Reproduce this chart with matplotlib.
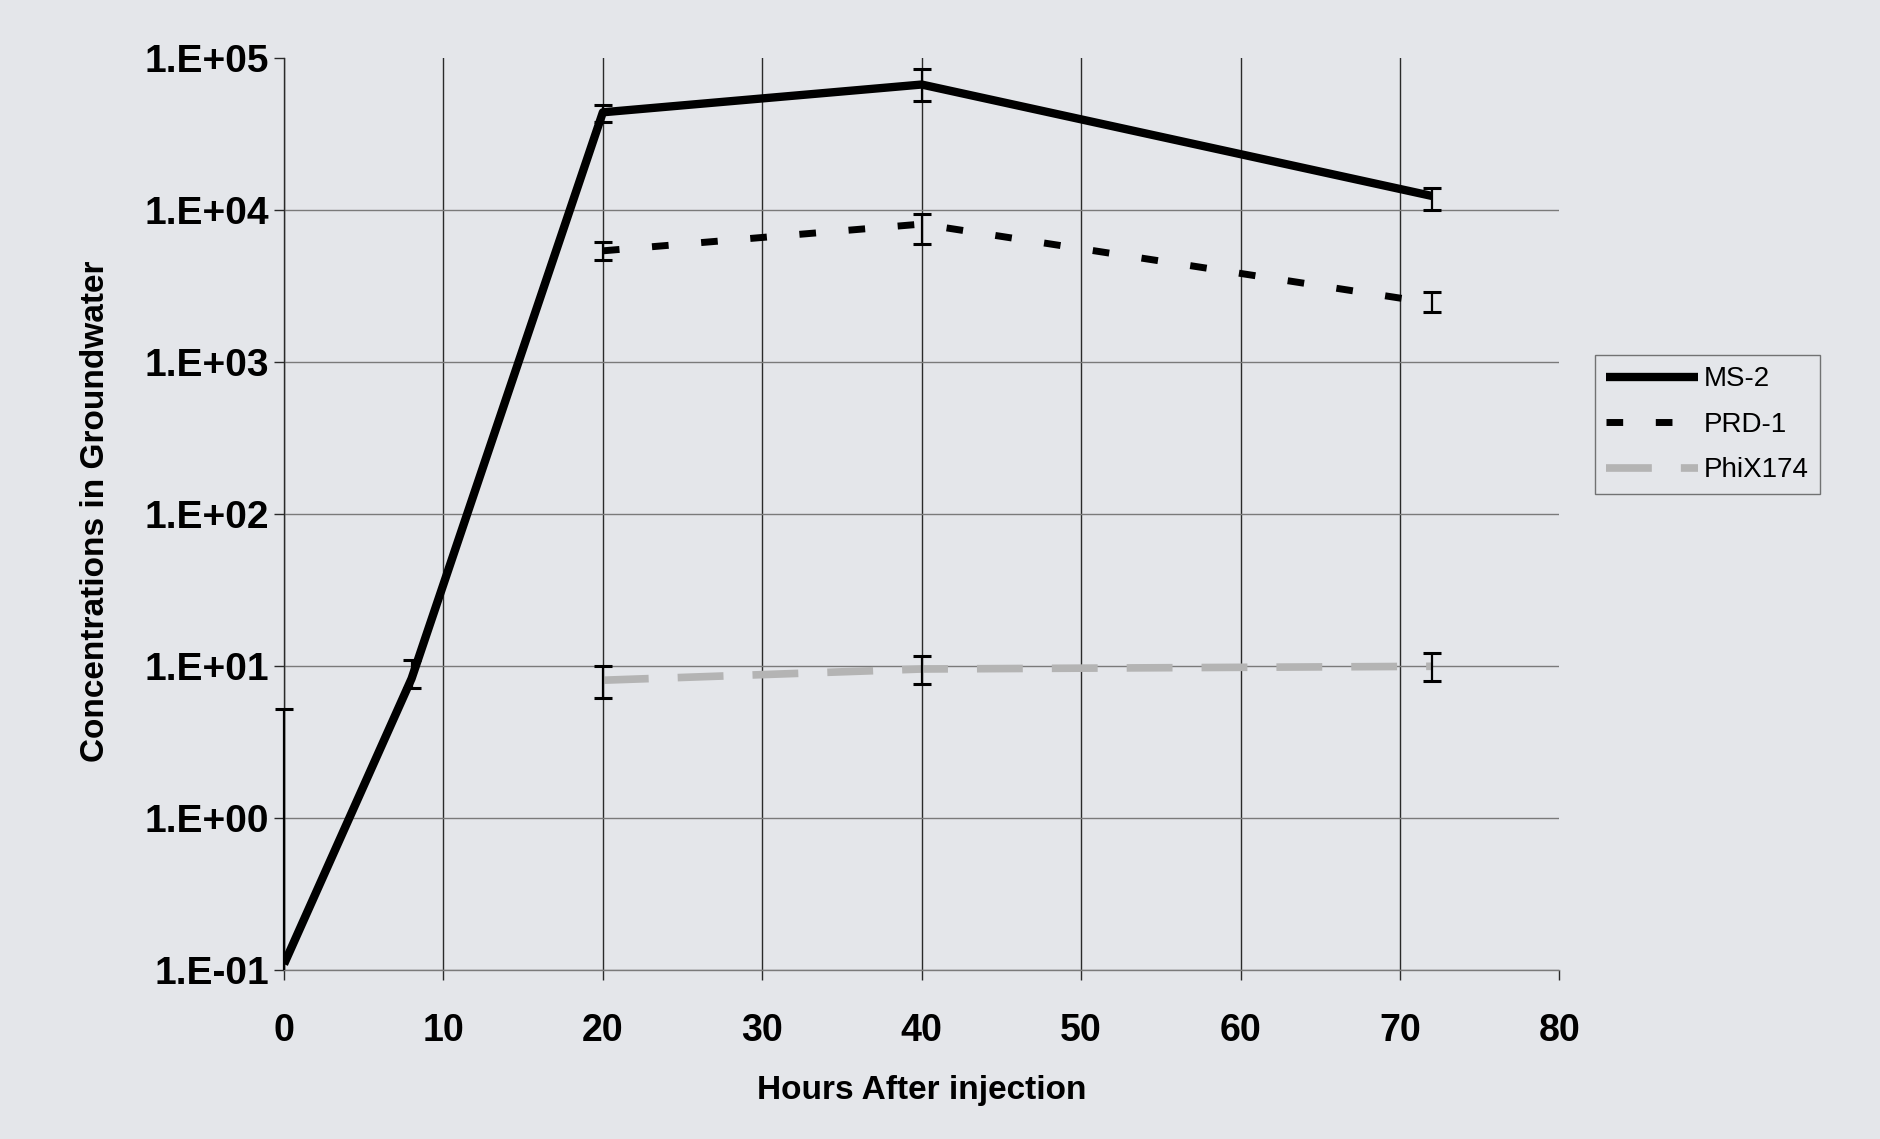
import numpy as np
import matplotlib
matplotlib.use('Agg')
import matplotlib.pyplot as plt
from matplotlib.ticker import FixedLocator, FuncFormatter, NullLocator

# data
hours_ms2 = [0, 8, 20, 40, 72]
ms2 = [0.11, 8.3, 44000, 67000, 12400]
ms2_lo = [0.1, 7.2, 38000, 52000, 10000]
ms2_hi = [5.2, 11, 49000, 85000, 14000]

hours_prd = [20, 40, 72]
prd1 = [5400, 8100, 2450]
prd1_lo = [4700, 6000, 2150]
prd1_hi = [6200, 9500, 2900]

hours_phi = [20, 40, 72]
phix = [8.1, 9.6, 10.0]
phix_lo = [6.2, 7.6, 8.0]
phix_hi = [10.0, 11.7, 12.2]

x_ticks = [0, 10, 20, 30, 40, 50, 60, 70, 80]
y_ticks = [1e-1, 1e0, 1e1, 1e2, 1e3, 1e4, 1e5]

bg = '#e4e6ea'
plt.rcParams['font.family'] = ['Liberation Sans', 'DejaVu Sans']

fig = plt.figure(figsize=(18.81, 11.39), dpi=100, facecolor=bg)
ax = fig.add_axes([0.151, 0.148, 0.678, 0.801], facecolor=bg)
ax.set_yscale('log')
ax.set_xlim(0, 80)
ax.set_ylim(1e-1, 1e5)

# grid: dark verticals, grey horizontals, none on the top/right edge
for xv in x_ticks[:-1]:
    ax.axvline(xv, color='#2a2a2a', lw=1.0, zorder=1)
for yv in y_ticks[:-1]:
    ax.axhline(yv, color='#7a7a7a', lw=1.0, zorder=1)


def errs(y, lo, hi):
    y = np.array(y)
    return [y - np.array(lo), np.array(hi) - y]


ax.plot(hours_ms2, ms2, color='black', lw=6, solid_capstyle='butt',
        label='MS-2', zorder=4)
ax.plot(hours_prd, prd1, color='black', lw=5, dashes=(2.4, 4.7),
        dash_capstyle='butt', label='PRD-1', zorder=4)
ax.plot(hours_phi, phix, color='#b4b4b4', lw=5.5, dashes=(6.0, 3.8),
        dash_capstyle='butt', label='PhiX174', zorder=3)

for xs, ys, lo, hi in [(hours_ms2, ms2, ms2_lo, ms2_hi),
                       (hours_prd, prd1, prd1_lo, prd1_hi),
                       (hours_phi, phix, phix_lo, phix_hi)]:
    eb = ax.errorbar(xs, ys, yerr=errs(ys, lo, hi), fmt='none', ecolor='black',
                     elinewidth=1.6, capsize=6.5, capthick=2.2, zorder=5)
    if xs[0] == 0:
        # first bar runs down to the axis: no lower cap, not clipped
        eb[1][0].set_markevery(list(range(1, len(xs))))
        for art in list(eb[1]) + list(eb[2]):
            art.set_clip_on(False)

for s in ['top', 'right']:
    ax.spines[s].set_visible(False)
ax.spines['left'].set_color('#2a2a2a')
ax.spines['left'].set_linewidth(1.0)
ax.spines['bottom'].set_color('#7a7a7a')
ax.spines['bottom'].set_linewidth(1.0)

ax.xaxis.set_major_locator(FixedLocator(x_ticks))
ax.yaxis.set_major_locator(FixedLocator(y_ticks))
ax.yaxis.set_minor_locator(NullLocator())
ax.yaxis.set_major_formatter(FuncFormatter(
    lambda v, p: '1.E%+03d' % int(round(np.log10(v)))))
ax.tick_params(axis='x', direction='out', length=7, width=1.0,
               color='#2a2a2a', pad=24, labelsize=27)
ax.tick_params(axis='y', direction='out', length=7, width=1.0,
               color='#2a2a2a', pad=4, labelsize=28)
for lab in ax.get_xticklabels() + ax.get_yticklabels():
    lab.set_fontweight('bold')

ax.set_xlabel('Hours After injection', fontsize=24, fontweight='bold')
ax.xaxis.label.set_va('center')
ax.xaxis.set_label_coords(0.5, -0.1316)
ax.set_ylabel('Concentrations in Groundwater', fontsize=24, fontweight='bold')
ax.yaxis.label.set_va('center')
ax.yaxis.set_label_coords(-0.148, 0.503)

leg = ax.legend(loc='upper left', bbox_to_anchor=(0.848, 0.688),
                bbox_transform=fig.transFigure, borderaxespad=0,
                fontsize=20, frameon=True, fancybox=False, handlelength=3.3,
                handletextpad=0.2, labelspacing=0.7, borderpad=0.4)
leg.get_frame().set_facecolor(bg)
leg.get_frame().set_edgecolor('#555555')
leg.get_frame().set_linewidth(1.0)

fig.savefig('out.png', dpi=100, facecolor=bg)
